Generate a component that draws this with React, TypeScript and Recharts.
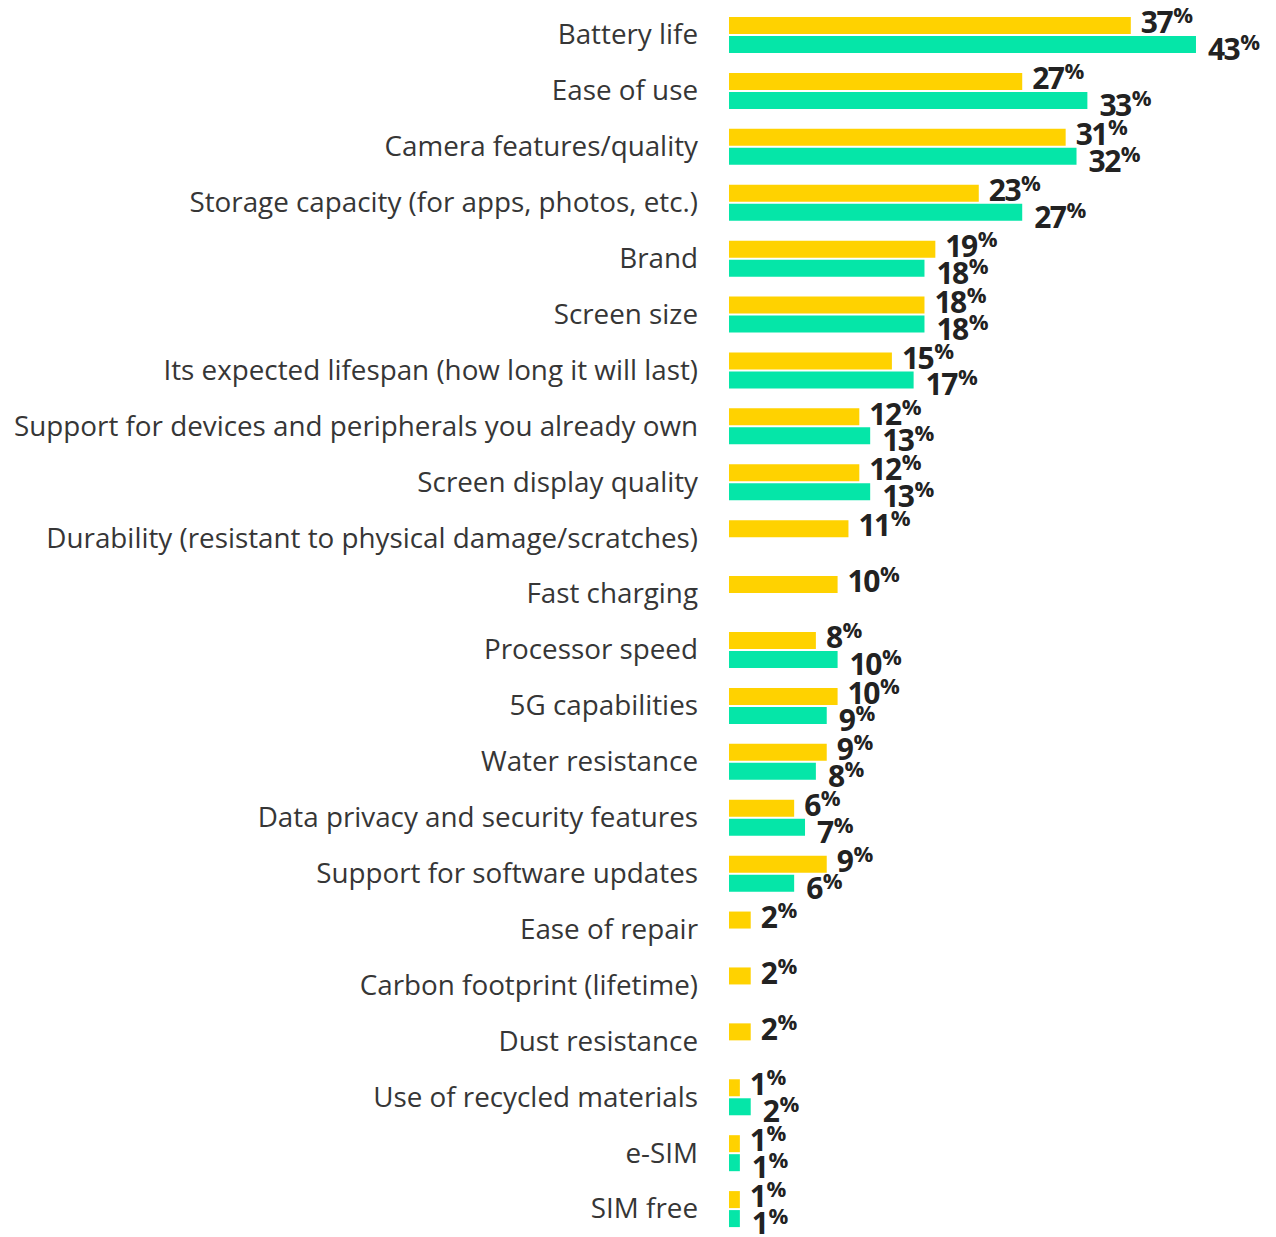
import { BarChart, Bar, XAxis, YAxis, LabelList } from 'recharts'

const features = [
  'Battery life',
  'Ease of use',
  'Camera features/quality',
  'Storage capacity (for apps, photos, etc.)',
  'Brand',
  'Screen size',
  'Its expected lifespan (how long it will last)',
  'Support for devices and peripherals you already own',
  'Screen display quality',
  'Durability (resistant to physical damage/scratches)',
  'Fast charging',
  'Processor speed',
  '5G capabilities',
  'Water resistance',
  'Data privacy and security features',
  'Support for software updates',
  'Ease of repair',
  'Carbon footprint (lifetime)',
  'Dust resistance',
  'Use of recycled materials',
  'e-SIM',
  'SIM free',
]

const yellowValues = [37, 27, 31, 23, 19, 18, 15, 12, 12, 11, 10, 8, 10, 9, 6, 9, 2, 2, 2, 1, 1, 1]
const greenValues: (number | null)[] = [
  43, 33, 32, 27, 18, 18, 17, 13, 13, null, null, 10, 9, 8, 7, 6, null, null, null, 2, 1, 1,
]

const data = features.map((name, i) => ({
  name,
  yellow: yellowValues[i],
  green: greenValues[i],
}))

const YELLOW = '#ffd200'
const GREEN = '#05e6a8'

function CategoryTick(props: any) {
  const { x, y, payload } = props
  return (
    <text
      x={x - 23}
      y={y}
      dy="0.34em"
      textAnchor="end"
      fill="#363636"
      fontSize={27.8}
      fontFamily="'Open Sans', sans-serif"
    >
      {payload.value}
    </text>
  )
}

// value label: big bold number with a small raised %
function makeLabel(shift: number, gap: number) {
  return (props: any) => {
    const { x, y, width, height, value } = props
    if (value == null) return null
    const cy = y + height / 2 + shift
    return (
      <text
        x={x + width + gap}
        y={cy + 11}
        fill="#222"
        fontFamily="'Open Sans', sans-serif"
        fontWeight={700}
        fontSize={30}
        letterSpacing={-1.5}
      >
        {value}
        <tspan fontSize={22} dx={1} dy={-10}>
          %
        </tspan>
      </text>
    )
  }
}

export default function App() {
  return (
    <div style={{ position: 'absolute', left: 0, top: 0, background: '#fff' }}>
      <BarChart
        width={1276}
        height={1237}
        data={data}
        layout="vertical"
        margin={{ top: 7, right: 4, bottom: 0, left: 0 }}
        barSize={17}
        barGap={2}
      >
        <XAxis type="number" domain={[0, 50]} hide />
        <YAxis
          type="category"
          dataKey="name"
          width={729}
          axisLine={false}
          tickLine={false}
          interval={0}
          tick={<CategoryTick />}
        />
        <Bar dataKey="yellow" fill={YELLOW} isAnimationActive={false}>
          <LabelList dataKey="yellow" content={makeLabel(-3.3, 10)} />
        </Bar>
        <Bar dataKey="green" fill={GREEN} isAnimationActive={false}>
          <LabelList dataKey="green" content={makeLabel(4.5, 12)} />
        </Bar>
      </BarChart>
    </div>
  )
}
